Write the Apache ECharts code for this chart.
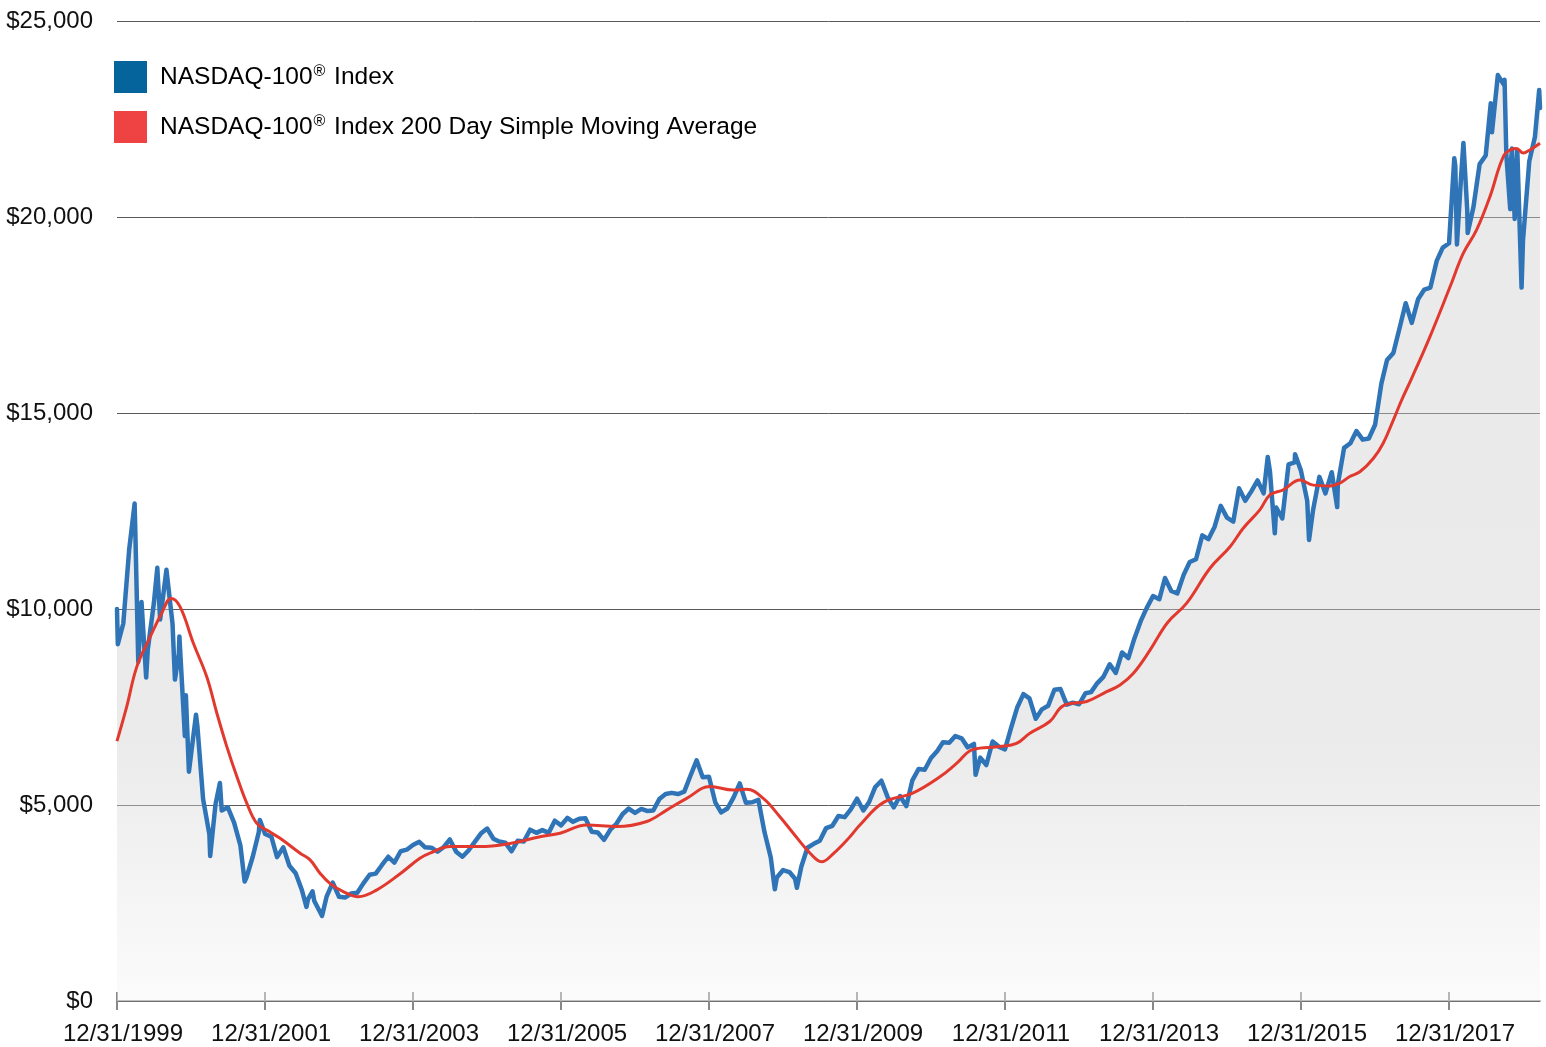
<!DOCTYPE html>
<html><head><meta charset="utf-8">
<script src="https://cdn.jsdelivr.net/npm/echarts@6/dist/echarts.min.js"></script>
<style>html,body{margin:0;padding:0;background:#fff}#c{width:1546px;height:1047px}</style>
</head><body><div id="c"></div>
<script>
const seriesNames = ['NASDAQ-100\u00AE Index', 'NASDAQ-100\u00AE Index 200 Day Simple Moving Average'];

const indexDates = [
'1999-12-31','2000-01-04','2000-01-31','2000-02-29','2000-03-27','2000-03-31','2000-04-14','2000-04-30','2000-05-23','2000-05-31','2000-06-30','2000-07-17','2000-07-31','2000-08-31','2000-09-30','2000-10-12','2000-10-31','2000-11-03','2000-11-30','2000-12-05','2000-12-20','2000-12-31',
'2001-01-24','2001-01-31','2001-02-28','2001-03-31','2001-04-04','2001-04-30','2001-05-22','2001-05-31','2001-06-30','2001-07-31','2001-08-31','2001-09-21','2001-09-30','2001-10-31','2001-11-30','2001-12-05','2001-12-31',
'2002-01-31','2002-02-28','2002-03-31','2002-04-30','2002-05-31','2002-06-30','2002-07-23','2002-07-31','2002-08-22','2002-08-31','2002-09-30','2002-10-08','2002-10-31','2002-11-30','2002-12-31',
'2003-01-31','2003-02-28','2003-03-31','2003-04-30','2003-05-31','2003-06-30','2003-07-31','2003-08-31','2003-09-30','2003-10-31','2003-11-30','2003-12-31',
'2004-01-31','2004-02-29','2004-03-31','2004-04-30','2004-05-31','2004-06-30','2004-07-31','2004-08-31','2004-09-30','2004-10-31','2004-11-30','2004-12-31',
'2005-01-31','2005-02-28','2005-03-31','2005-04-30','2005-05-31','2005-06-30','2005-07-31','2005-08-31','2005-09-30','2005-10-31','2005-11-30','2005-12-31',
'2006-01-31','2006-02-28','2006-03-31','2006-04-30','2006-05-31','2006-06-30','2006-07-31','2006-08-31','2006-09-30','2006-10-31','2006-11-30','2006-12-31',
'2007-01-31','2007-02-28','2007-03-31','2007-04-30','2007-05-31','2007-06-30','2007-07-31','2007-08-31','2007-09-30','2007-10-31','2007-11-30','2007-12-31',
'2008-01-31','2008-02-29','2008-03-31','2008-04-30','2008-05-31','2008-06-30','2008-07-31','2008-08-31','2008-09-30','2008-10-31','2008-11-20','2008-11-30','2008-12-31',
'2009-01-31','2009-02-28','2009-03-09','2009-03-31','2009-04-30','2009-05-31','2009-06-30','2009-07-31','2009-08-31','2009-09-30','2009-10-31','2009-11-30','2009-12-31',
'2010-01-31','2010-02-28','2010-03-31','2010-04-30','2010-05-31','2010-06-30','2010-07-31','2010-08-31','2010-09-30','2010-10-31','2010-11-30','2010-12-31',
'2011-01-31','2011-02-28','2011-03-31','2011-04-30','2011-05-31','2011-06-30','2011-07-31','2011-08-08','2011-08-31','2011-09-30','2011-10-31','2011-11-30','2011-12-31',
'2012-01-31','2012-02-29','2012-03-31','2012-04-30','2012-05-31','2012-06-30','2012-07-31','2012-08-31','2012-09-30','2012-10-31','2012-11-30','2012-12-31',
'2013-01-31','2013-02-28','2013-03-31','2013-04-30','2013-05-31','2013-06-30','2013-07-31','2013-08-31','2013-09-30','2013-10-31','2013-11-30','2013-12-31',
'2014-01-31','2014-02-28','2014-03-31','2014-04-30','2014-05-31','2014-06-30','2014-07-31','2014-08-31','2014-09-30','2014-10-31','2014-11-30','2014-12-31',
'2015-01-31','2015-02-28','2015-03-31','2015-04-30','2015-05-31','2015-06-30','2015-07-20','2015-07-31','2015-08-24','2015-08-31','2015-09-30','2015-10-31','2015-11-30','2015-12-02','2015-12-31',
'2016-01-31','2016-02-09','2016-02-29','2016-03-31','2016-04-30','2016-05-31','2016-06-27','2016-06-30','2016-07-31','2016-08-31','2016-09-30','2016-10-31','2016-11-30','2016-12-31',
'2017-01-31','2017-02-28','2017-03-31','2017-04-30','2017-05-31','2017-06-30','2017-07-31','2017-08-31','2017-09-30','2017-10-31','2017-11-30','2017-12-31',
'2018-01-26','2018-01-31','2018-02-08','2018-02-28','2018-03-12','2018-03-31','2018-04-02','2018-04-30','2018-05-31','2018-06-30','2018-07-25','2018-07-31','2018-08-29','2018-09-28','2018-10-01','2018-10-10','2018-10-29','2018-10-31','2018-11-07','2018-11-20','2018-11-30','2018-12-03','2018-12-24','2018-12-31',
'2019-01-31','2019-02-28','2019-03-21','2019-03-25'
];
const indexValues = [
10000,9100,9630,11510,12690,11860,8650,10180,8250,8970,10150,11050,9730,11000,9630,8200,8850,9300,6760,7800,5850,6310,
7300,7000,5150,4250,3700,5010,5560,4860,4940,4550,3970,3050,3150,3680,4310,4620,4260,
4190,3670,3920,3450,3260,2840,2400,2600,2800,2550,2250,2170,2670,3020,2660,
2640,2740,2760,3000,3220,3250,3470,3680,3530,3820,3860,3980,
4060,3920,3910,3810,3930,4120,3810,3680,3840,4060,4270,4400,
4140,4070,4040,3820,4090,4070,4370,4290,4360,4290,4600,4480,
4670,4570,4650,4660,4320,4300,4110,4370,4520,4770,4910,4800,
4900,4850,4860,5150,5280,5310,5280,5340,5740,6140,5710,5720,
5070,4810,4910,5190,5550,5060,5070,5130,4310,3660,2850,3150,3340,
3290,3120,2890,3430,3910,4010,4090,4410,4470,4720,4690,4890,5160,
4860,5070,5460,5620,5200,4940,5230,4970,5630,5920,5900,6200,
6380,6600,6590,6760,6700,6470,6560,5770,6210,6020,6620,6490,6420,
6980,7480,7830,7720,7200,7440,7530,7940,7960,7560,7610,7570,
7850,7880,8110,8270,8590,8370,8890,8750,9250,9690,10030,10330,
10250,10790,10460,10400,10870,11200,11270,11880,11780,12100,12630,12330,
12230,13080,12760,13000,13280,12950,13880,13510,11930,12590,12310,13690,13740,13950,13530,
12760,11760,12530,13370,12950,13490,12600,13180,14110,14230,14540,14320,14350,14700,
15750,16350,16530,17150,17800,17300,17900,18150,18200,18880,19220,19330,
21500,21300,19300,21000,21890,20160,19590,20240,21350,21570,22900,22160,23620,23370,23500,21570,20200,21350,21750,19950,21290,21700,18200,19400,
21420,22040,23240,22780
];

const smaDates = [
'1999-12-31','2000-02-17','2000-04-07','2000-06-12','2000-08-08','2000-09-23','2000-11-06',
'2001-01-11','2001-03-18','2001-05-07','2001-06-25','2001-08-14','2001-10-02','2001-11-20',
'2002-01-08','2002-03-15','2002-06-22','2002-08-10','2002-09-28','2002-11-16',
'2003-01-21','2003-04-05','2003-07-04','2003-10-27','2004-02-03','2004-03-24','2004-07-01','2004-11-26',
'2005-04-23','2005-09-18','2005-12-26','2006-05-06','2006-10-02','2007-02-27','2007-06-05','2007-09-12',
'2008-01-05','2008-04-29','2008-07-04','2008-09-24','2008-12-15','2009-02-19','2009-05-13','2009-07-09','2009-09-05','2009-11-26',
'2010-01-14','2010-05-09','2010-10-04','2011-02-13','2011-05-06','2011-07-27','2011-12-06',
'2012-02-26','2012-05-02','2012-08-08','2012-10-13','2013-02-06','2013-05-16','2013-07-21','2013-09-25','2013-12-16',
'2014-03-12','2014-06-15','2014-10-08','2015-01-15','2015-03-21','2015-06-11','2015-07-31','2015-10-05','2015-12-26',
'2016-03-01','2016-05-22','2016-07-10','2016-08-28','2016-10-17','2016-12-22','2017-02-09','2017-03-31','2017-05-11','2017-06-30','2017-09-28',
'2018-01-05','2018-03-11','2018-05-16','2018-07-21','2018-09-25','2018-11-05','2018-11-29','2019-01-01','2019-02-03','2019-03-25'
];
const smaValues = [
6630,7510,8530,9290,9900,10270,10060,
9125,8270,7340,6490,5720,5040,4530,
4360,4150,3770,3600,3260,3000,
2790,2660,2830,3240,3640,3770,3940,3940,
4020,4190,4280,4490,4450,4580,4870,5170,
5470,5380,5400,5170,4700,4280,3770,3550,3760,4190,
4490,5060,5310,5720,6060,6420,6490,
6570,6830,7130,7530,7640,7890,8060,8360,8950,
9650,10150,11040,11590,12060,12530,12910,13040,13290,
13160,13140,13210,13380,13500,13840,14230,14820,15330,15890,16950,
18220,19070,19670,20520,21540,21730,21750,21630,21710,21880
];

const axisStart = '1999-12-31';
const axisEnd = '2019-03-25';
const tickDates = ['1999-12-31','2001-12-31','2003-12-31','2005-12-31','2007-12-31','2009-12-31','2011-12-31','2013-12-31','2015-12-31','2017-12-31'];
const tickLabels = ['12/31/1999','12/31/2001','12/31/2003','12/31/2005','12/31/2007','12/31/2009','12/31/2011','12/31/2013','12/31/2015','12/31/2017'];

function ts(s){ const p = s.split('-'); return new Date(+p[0], +p[1]-1, +p[2]).getTime(); }
const tickTimes = tickDates.map(ts);

const chart = echarts.init(document.getElementById('c'), null, {renderer:'canvas'});
const FONT = 'Liberation Sans, Arial, sans-serif';
const gridBox = {left:117, right:6, top:21, bottom:46, containLabel:false};

const xBase = { type:'value', min: ts(axisStart), max: ts(axisEnd), splitLine:{show:false} };

chart.setOption({
  animation:false,
  backgroundColor:'#ffffff',
  grid:[Object.assign({}, gridBox), Object.assign({}, gridBox)],
  legend:{
    orient:'vertical', left:109, top:56, itemWidth:33, itemHeight:32, itemGap:18, icon:'rect',
    formatter: n => n.replace('\u00AE','{sup|\u00AE}'),
    textStyle:{fontSize:24.5, color:'#000', fontFamily:FONT, padding:[0,0,0,8],
      rich:{sup:{fontSize:16, fontFamily:FONT, color:'#000', verticalAlign:'top', padding:[0,2,10,1]}}},
    data:[
      {name:seriesNames[0], itemStyle:{color:'#05649c'}},
      {name:seriesNames[1], itemStyle:{color:'#ef4343'}}
    ],
    selectedMode:false
  },
  xAxis:[
    Object.assign({}, xBase, {
      gridIndex:0, position:'bottom',
      axisLine:{show:true, lineStyle:{color:'#777', width:1.5}},
      axisTick:{show:false},
      axisLabel:{show:true, customValues:tickTimes, margin:21, fontSize:24, color:'#111', fontFamily:FONT,
        padding:[0,0,0,12],
        formatter: v => { const i = tickTimes.indexOf(v); return i >= 0 ? tickLabels[i] : ''; }}
    }),
    Object.assign({}, xBase, {
      gridIndex:1, position:'bottom', offset:-9,
      axisLine:{show:false},
      axisTick:{show:true, length:18, customValues:tickTimes, lineStyle:{color:'#888', width:2}},
      axisLabel:{show:false}
    })
  ],
  yAxis:[
    {
      gridIndex:0, type:'value', min:0, max:25000, interval:5000,
      axisLine:{show:false}, axisTick:{show:false},
      splitLine:{show:true, lineStyle:{color:'#5a5a5a', width:1}},
      axisLabel:{margin:24, fontSize:24, color:'#111', fontFamily:FONT,
        formatter: v => '$' + v.toLocaleString('en-US')}
    },
    {
      gridIndex:1, type:'value', min:0, max:25000, show:false
    }
  ],
  series:[
    {
      name:seriesNames[0], type:'line', xAxisIndex:0, yAxisIndex:0, showSymbol:false, symbol:'none',
      data: indexDates.map((d,i) => [ts(d), indexValues[i]]),
      lineStyle:{color:'#2f74b7', width:4.5, join:'round', cap:'round'},
      itemStyle:{color:'#2f74b7'},
      areaStyle:{origin:'start', color:new echarts.graphic.LinearGradient(0,0,0,1,[
        {offset:0, color:'rgba(205,205,205,0.6)'},
        {offset:0.72, color:'rgba(207,207,207,0.6)'},
        {offset:1, color:'rgba(246,246,246,0.6)'}
      ])},
      z:2
    },
    {
      name:seriesNames[1], type:'line', xAxisIndex:0, yAxisIndex:0, showSymbol:false, symbol:'none', smooth:0.4,
      data: smaDates.map((d,i) => [ts(d), smaValues[i]]),
      lineStyle:{color:'#e2392f', width:3},
      itemStyle:{color:'#e2392f'},
      z:3
    }
  ]
});
</script></body></html>
